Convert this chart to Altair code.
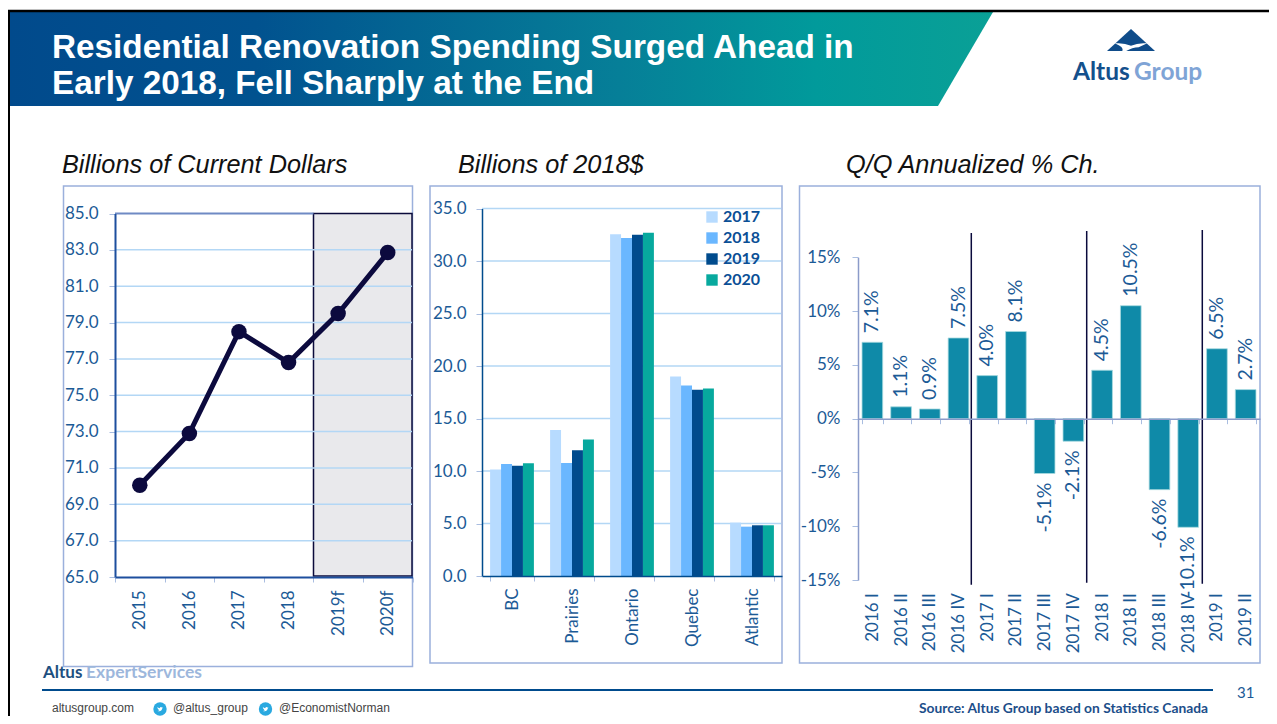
import altair as alt
import pandas as pd

# ---------- data ----------
YEARS_A = ["2015", "2016", "2017", "2018", "2019f", "2020f"]
VALUES_A = [70.05, 72.9, 78.5, 76.8, 79.5, 82.85]
TICKS_A = [65, 67, 69, 71, 73, 75, 77, 79, 81, 83, 85]

REGIONS = ["BC", "Prairies", "Ontario", "Quebec", "Atlantic"]
SERIES_B = ["2017", "2018", "2019", "2020"]
COLORS_B = ["#b7dbff", "#6ab7ff", "#004b8d", "#07a99e"]
V2017 = [10.15, 13.9, 32.55, 19.0, 5.08]
V2018 = [10.67, 10.76, 32.2, 18.15, 4.7]
V2019 = [10.5, 11.97, 32.5, 17.75, 4.83]
V2020 = [10.73, 13.0, 32.7, 17.85, 4.83]
TICKS_B = [0, 5, 10, 15, 20, 25, 30, 35]

QUARTERS = ["2016 I", "2016 II", "2016 III", "2016 IV", "2017 I", "2017 II", "2017 III",
            "2017 IV", "2018 I", "2018 II", "2018 III", "2018 IV", "2019 I", "2019 II"]
VALUES_C = [7.1, 1.1, 0.9, 7.5, 4.0, 8.1, -5.1, -2.1, 4.5, 10.5, -6.6, -10.1, 6.5, 2.7]

W, H = 1261, 708
BLUE = "#1b5a96"
FONT = "Lato"
HEAD = "Liberation Sans"


def X(p):  # page pixel -> chart pixel
    return p - 8


def Y(p):
    return p - 8


def box(x0, x1, y0, y1, **kw):
    return alt.Chart(pd.DataFrame({"a": [0]})).mark_rect(**kw).encode(
        x=alt.value(X(x0)), x2=alt.value(X(x1)), y=alt.value(Y(y0)), y2=alt.value(Y(y1)))


def hline(x0, x1, y, color, width):
    return alt.Chart(pd.DataFrame({"a": [0]})).mark_rule(color=color, strokeWidth=width).encode(
        x=alt.value(X(x0)), x2=alt.value(X(x1)), y=alt.value(Y(y)))


def vline(x, y0, y1, color, width):
    return alt.Chart(pd.DataFrame({"a": [0]})).mark_rule(color=color, strokeWidth=width).encode(
        x=alt.value(X(x)), y=alt.value(Y(y0)), y2=alt.value(Y(y1)))


def label(s, x, y, size, color, weight="normal", style="normal", font=HEAD, align="left", **kw):
    return alt.Chart(pd.DataFrame({"t": [s]})).mark_text(
        align=align, baseline="alphabetic", fontSize=size, color=color, fontWeight=weight,
        fontStyle=style, font=font, **kw
    ).encode(text="t:N", x=alt.value(X(x)), y=alt.value(Y(y)))


def glyph(path, x, y, size, color):
    return alt.Chart(pd.DataFrame({"a": [0]})).mark_point(
        shape=path, filled=True, fill=color, stroke=None, size=size, opacity=1
    ).encode(x=alt.value(X(x)), y=alt.value(Y(y)))


AXIS_TEXT = dict(labelFont=FONT, labelFontSize=17, labelColor=BLUE, title=None, grid=False, zindex=1)

layers = []

# ---------- page chrome ----------
poly = pd.DataFrame({"x": [X(10), X(938), X(993)], "top": [Y(12)] * 3, "bot": [Y(106), Y(106), Y(12)]})
pix_x = alt.Scale(domain=[0, W], range=[0, W])
pix_y = alt.Scale(domain=[0, H], range=[0, H])
layers.append(
    alt.Chart(poly).mark_area(
        fill=alt.Gradient(
            gradient="linear", x1=0, x2=1, y1=0, y2=0,
            stops=[
                alt.GradientStop(color="#014a8c", offset=0),
                alt.GradientStop(color="#01528f", offset=0.25),
                alt.GradientStop(color="#067f98", offset=0.62),
                alt.GradientStop(color="#019a9b", offset=0.82),
                alt.GradientStop(color="#0aa096", offset=1),
            ],
        )
    ).encode(
        x=alt.X("x:Q", scale=pix_x, axis=None),
        y=alt.Y("top:Q", scale=pix_y, axis=None),
        y2="bot:Q",
    )
)
layers.append(hline(7, 1277, 11, "#000000", 2.5))
layers.append(vline(8.5, 10, 724, "#000000", 3))
layers.append(label("Residential Renovation Spending Surged Ahead in", 52, 58, 33.3, "#ffffff", "bold"))
layers.append(label("Early 2018, Fell Sharply at the End", 52, 94, 33.3, "#ffffff", "bold"))

# logo
layers.append(glyph("M0,-0.46 L1,0.46 L-1,0.46 Z", 1131, 40, 2304, "#0f4c8a"))
layers.append(glyph("M-0.68,0.14 Q-0.3,0.1 0,0.24 Q0.3,0.1 0.68,0.14 L0.32,0.3 Q0.05,0.3 -0.2,0.46 L-0.36,0.46 Q-0.28,0.3 -0.68,0.14 Z",
                    1131, 40, 2304, "#ffffff"))
layers.append(label("Altus", 1073, 80, 24.5, "#14508c", "bold", font=FONT))
layers.append(label("Group", 1134, 80, 24.5, "#7fa4d6", "bold", font=FONT))

# subtitles
layers.append(label("Billions of Current Dollars", 62, 173, 25.3, "#111111", style="italic"))
layers.append(label("Billions of 2018$", 458, 173, 25.3, "#111111", style="italic"))
layers.append(label("Q/Q Annualized % Ch.", 846, 173, 25.3, "#111111", style="italic"))

# panel frames
FRAME = "#9bb0dc"
layers.append(box(63.5, 412.5, 186, 666.5, fill="#ffffff", stroke=FRAME, strokeWidth=1.5))
layers.append(box(430, 782, 186, 663, fill="#ffffff", stroke=FRAME, strokeWidth=1.5))
layers.append(box(799.5, 1260, 186, 663, fill="#ffffff", stroke=FRAME, strokeWidth=1.5))

# ---------- panel A ----------
ya = alt.Scale(domain=[65, 85], range=[Y(577), Y(213.5)], nice=False, zero=False)
xa = alt.Scale(domain=YEARS_A, range=[X(115), X(412.5)], paddingInner=0, paddingOuter=0)
df_a = pd.DataFrame({"year": YEARS_A, "v": VALUES_A})
layers.append(box(313.5, 412, 213.5, 576, fill="#e9e9ec", stroke="#0b0b3b", strokeWidth=1.5))
layers.append(
    alt.Chart(pd.DataFrame({"t": TICKS_A[1:-1]})).mark_rule(color="#b3d7f5", strokeWidth=1.5).encode(
        y=alt.Y("t:Q", scale=ya, axis=None), x=alt.value(X(115)), x2=alt.value(X(412))
    )
)
layers.append(hline(115, 313.5, 213.5, "#6f8ac4", 2))
layers.append(
    alt.Chart(df_a).mark_line(color="#0c0a3e", strokeWidth=5).encode(
        x=alt.X("year:N", scale=xa, sort=YEARS_A,
                axis=alt.Axis(orient="bottom", offset=-(H - Y(577)), labelAngle=-90, labelAlign="right",
                              labelBaseline="middle", labelPadding=8, tickBand="extent", tickSize=5,
                              tickColor="#a9bde0", domainColor="#1d4f9e", domainWidth=2, **AXIS_TEXT)),
        y=alt.Y("v:Q", scale=ya,
                axis=alt.Axis(orient="left", offset=-X(115), values=TICKS_A, format=".1f", labelPadding=11,
                              tickSize=6, tickColor="#a9bde0", domainColor="#1d4f9e", domainWidth=2,
                              labelOverlap=False, **AXIS_TEXT)),
    )
)
layers.append(
    alt.Chart(df_a).mark_point(filled=True, color="#0c0a3e", size=240, opacity=1).encode(
        x=alt.X("year:N", scale=xa, sort=YEARS_A, axis=None),
        y=alt.Y("v:Q", scale=ya, axis=None),
    )
)

# ---------- panel B ----------
yb = alt.Scale(domain=[0, 35], range=[Y(576), Y(208.5)], nice=False)
xb = alt.Scale(domain=REGIONS, range=[X(482), X(782)], paddingInner=0.27, paddingOuter=0.135)
layers.append(
    alt.Chart(pd.DataFrame({"t": TICKS_B[1:]})).mark_rule(color="#b3d7f5", strokeWidth=1.5).encode(
        y=alt.Y("t:Q", scale=yb, axis=None), x=alt.value(X(482)), x2=alt.value(X(781))
    )
)
rows = []
for s, vals in zip(SERIES_B, [V2017, V2018, V2019, V2020]):
    for r, v in zip(REGIONS, vals):
        rows.append({"region": r, "year": s, "v": v})
layers.append(
    alt.Chart(pd.DataFrame(rows)).mark_bar().encode(
        x=alt.X("region:N", scale=xb, sort=REGIONS,
                axis=alt.Axis(orient="bottom", offset=-(H - Y(576)), labelAngle=-90, labelAlign="right",
                              labelBaseline="middle", labelPadding=7, tickBand="extent", tickSize=5,
                              tickColor="#a9bde0", domainColor="#004b8d", domainWidth=1.5, **AXIS_TEXT)),
        xOffset=alt.XOffset("year:N", sort=SERIES_B, scale=alt.Scale(paddingInner=0, paddingOuter=0)),
        y=alt.Y("v:Q", scale=yb,
                axis=alt.Axis(orient="left", offset=-X(482), values=TICKS_B, format=".1f", labelPadding=10,
                              tickSize=6, tickColor="#a9bde0", domainColor="#004b8d", domainWidth=1.5,
                              labelOverlap=False, **AXIS_TEXT)),
        color=alt.Color("year:N", sort=SERIES_B,
                        scale=alt.Scale(domain=SERIES_B, range=COLORS_B),
                        legend=alt.Legend(orient="none", legendX=X(704), legendY=Y(209), title=None,
                                          symbolType="square", symbolSize=130, symbolStrokeWidth=0,
                                          labelFont=FONT, labelFontSize=16, labelFontWeight="bold",
                                          labelColor="#0b4f96", rowPadding=5, labelOffset=3, padding=0)),
    )
)

# ---------- panel C ----------
yc = alt.Scale(domain=[-15, 15], range=[Y(580), Y(257.3)], nice=False)
xc = alt.Scale(domain=QUARTERS, range=[X(858), X(1260)], paddingInner=0.28, paddingOuter=0.14)
df_c = pd.DataFrame({"q": QUARTERS, "v": VALUES_C, "t": [f"{v:.1f}%" for v in VALUES_C]})
layers.append(
    alt.Chart(df_c).mark_bar(stroke="#a8dbe0", strokeWidth=0.8).encode(
        x=alt.X("q:N", scale=xc, sort=QUARTERS,
                axis=alt.Axis(orient="bottom", offset=-(H - Y(418.7)), labelAngle=-90, labelAlign="right",
                              labelBaseline="middle", labelPadding=169, tickBand="extent", tickSize=5,
                              tickColor="#a9bde0", domainColor="#8b9bc9", domainWidth=1.5, **AXIS_TEXT)),
        y=alt.Y("v:Q", scale=yc,
                axis=alt.Axis(orient="left", offset=-X(858), values=[-15, -10, -5, 0, 5, 10, 15],
                              labelExpr="datum.value + '%'", labelPadding=12, tickSize=6,
                              tickColor="#a9bde0", domainColor="#8b9bc9", domainWidth=1.5,
                              labelOverlap=False, **AXIS_TEXT)),
        color=alt.value("#0f8aa8"),
    )
)
for cond, align, dx in [("datum.v >= 0", "left", 9), ("datum.v < 0", "right", -9)]:
    layers.append(
        alt.Chart(df_c).transform_filter(cond).mark_text(
            angle=270, align=align, baseline="middle", dx=dx, font=FONT, fontSize=19.5, color=BLUE
        ).encode(
            x=alt.X("q:N", scale=xc, sort=QUARTERS, axis=None),
            y=alt.Y("v:Q", scale=yc, axis=None),
            text="t:N",
        )
    )
layers.append(vline(971.3, 233, 584.7, "#0a0a3c", 1.5))
layers.append(vline(1086.7, 231, 582.7, "#0a0a3c", 1.5))
layers.append(vline(1202.3, 230, 583.7, "#0a0a3c", 1.5))

# ---------- footer ----------
layers.append(label("Altus", 43, 678, 17, "#1d4f80", "bold", font=FONT))
layers.append(label("ExpertServices", 86, 678, 17.5, "#9db7dc", "bold", font=FONT))
layers.append(hline(42, 1213, 690, "#004b8d", 2))
layers.append(label("31", 1237, 698, 15, BLUE, font=FONT))
layers.append(label("altusgroup.com", 52, 712, 12, "#444444"))
layers.append(label("@altus_group", 173, 712, 12, "#444444"))
layers.append(label("@EconomistNorman", 279, 712, 12, "#444444"))
layers.append(label("Source:  Altus Group based on Statistics Canada", 919, 713, 13.8, "#1c4e8a", "bold", font=FONT))
BIRD = "M-0.55,0.4 Q0.3,0.65 0.5,-0.15 L0.62,-0.32 L0.42,-0.3 Q0.15,-0.62 -0.08,-0.15 Q-0.38,-0.2 -0.55,-0.42 Q-0.6,-0.1 -0.35,0.05 Q-0.3,0.25 -0.1,0.25 Q-0.3,0.38 -0.55,0.4 Z"
for cx in [160, 265.5]:
    layers.append(alt.Chart(pd.DataFrame({"a": [0]})).mark_circle(color="#2aa9e0", size=180, opacity=1).encode(
        x=alt.value(X(cx)), y=alt.value(Y(709))))
    layers.append(glyph(BIRD, cx, 709, 90, "#ffffff"))

chart = alt.layer(*layers).resolve_scale(
    x="independent", y="independent", color="independent"
).properties(
    width=W, height=H, padding=0, autosize=alt.AutoSizeParams(type="none"), background="#ffffff"
).configure_view(stroke=None)

chart.save("out.html", embed_options={"renderer": "svg", "actions": False})
